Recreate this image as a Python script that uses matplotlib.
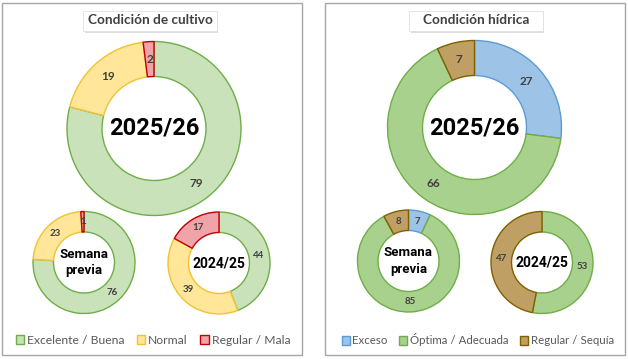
import matplotlib
matplotlib.use("Agg")
import numpy as np
import matplotlib.pyplot as plt
from matplotlib.patches import Rectangle, Patch

plt.rcParams['font.family'] = ['Lato', 'DejaVu Sans']

# datos
cultivo_labels = ['Excelente / Buena', 'Normal', 'Regular / Mala']
cultivo_actual = [79, 19, 2]
cultivo_previa = [76, 23, 1]
cultivo_anterior = [44, 39, 17]

hidrica_labels = ['Exceso', 'Óptima / Adecuada', 'Regular / Sequía']
hidrica_actual = [27, 66, 7]
hidrica_previa = [7, 85, 8]
hidrica_anterior = [0, 53, 47]

cultivo_fill = ['#C9E2B9', '#FFE699', '#F0A3A8']
cultivo_edge = ['#70AD47', '#F2C230', '#C00000']
hidrica_fill = ['#9DC3E6', '#A9D18E', '#BF9F64']
hidrica_edge = ['#5B9BD5', '#70AD47', '#7F6000']

W, H = 628, 359
fig = plt.figure(figsize=(W / 100, H / 100), dpi=100)
ax = fig.add_axes([0, 0, 1, 1])
ax.set_xlim(0, W)
ax.set_ylim(0, H)
ax.set_aspect('equal')
ax.axis('off')


def Y(y):
    return H - y


def donut(vals, fills, edges, cx, cy, r, rin, fs_lab, center_txt, fs_c):
    wedges, _ = ax.pie(vals, colors=fills, startangle=90, counterclock=False,
                       center=(cx, Y(cy)), radius=r,
                       wedgeprops=dict(width=r - rin, linewidth=1.0))
    for w, ec in zip(wedges, edges):
        w.set_edgecolor(ec)
    tot = sum(vals)
    start = 90
    rm = (r + rin) / 2
    for v in vals:
        if v > 0:
            mid = np.deg2rad(start - v / tot * 360 / 2)
            ax.text(cx + rm * np.cos(mid), Y(cy) + rm * np.sin(mid), str(v),
                    ha='center', va='center', fontsize=fs_lab,
                    color='#404040', fontweight='bold')
        start -= v / tot * 360
    ax.text(cx, Y(cy), center_txt, ha='center', va='center', fontsize=fs_c,
            fontweight='bold', color='black', linespacing=1.3,
            family=['Roboto', 'DejaVu Sans'])


def panel(x0, x1, title, tx, labels, fills, edges, actual, previa, anterior,
          c_big, c_s1, c_s2, leg_x, leg_fs):
    ax.add_patch(Rectangle((x0, Y(355)), x1 - x0, 352, fill=False,
                           edgecolor='#A6A6A6', linewidth=1.0))
    # caja del titulo con sombra
    ax.add_patch(Rectangle((tx - 65, Y(33)), 133, 21, facecolor='#D0D0D0',
                           edgecolor='none', alpha=0.7))
    ax.add_patch(Rectangle((tx - 67, Y(31)), 134, 20, facecolor='white',
                           edgecolor='#E0E0E0', linewidth=0.6))
    ax.text(tx, Y(20), title, ha='center', va='center', fontsize=9.8,
            fontweight='bold', color='#404040')
    donut(actual, fills, edges, c_big[0], c_big[1], 87, 52, 8.5, '2025/26', 17)
    donut(previa, fills, edges, c_s1[0], c_s1[1], 51, 30.5, 7,
          'Semana\nprevia', 9.5)
    donut(anterior, fills, edges, c_s2[0], c_s2[1], 51, 30.5, 7,
          '2024/25', 10)
    handles = [Patch(facecolor=f, edgecolor=e, linewidth=1.0)
               for f, e in zip(fills, edges)]
    ax.legend(handles, labels, loc='center', ncol=3, frameon=False,
              bbox_to_anchor=(leg_x / W, 1 - 340 / H), fontsize=leg_fs,
              labelcolor='#595959', handlelength=0.7, handleheight=0.7,
              handletextpad=0.25, columnspacing=1.0, borderaxespad=0)


panel(2, 302, 'Condición de cultivo', 150, cultivo_labels, cultivo_fill,
      cultivo_edge, cultivo_actual, cultivo_previa, cultivo_anterior,
      (154, 128.5), (84, 262.5), (219, 263), 153, 8.7)
# ax.legend reemplaza la leyenda anterior, asi que la dejamos fija
leg1 = ax.get_legend()
ax.add_artist(leg1)
panel(325, 625, 'Condición hídrica', 476, hidrica_labels, hidrica_fill,
      hidrica_edge, hidrica_actual, hidrica_previa, hidrica_anterior,
      (474.5, 127.5), (408.5, 261), (542, 262.5), 478, 8.3)

ax.set_xlim(0, W)
ax.set_ylim(0, H)
fig.savefig('out.png', dpi=100, facecolor='white')
